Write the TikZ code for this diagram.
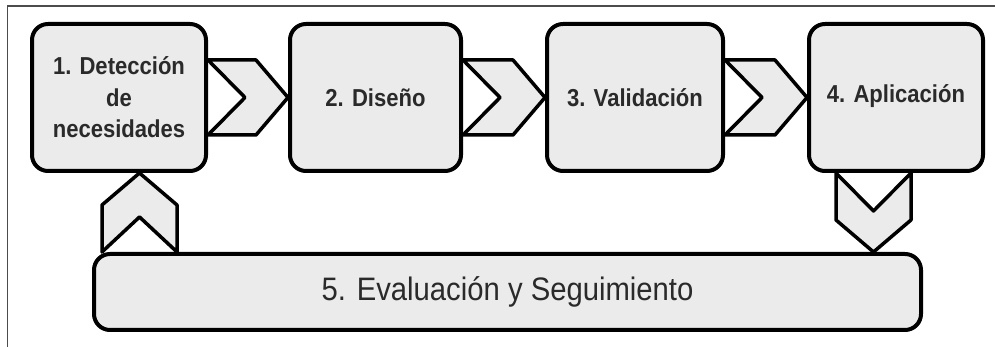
\documentclass[tikz,border=0pt]{standalone}
\usepackage{fontspec}
\setmainfont{Liberation Sans}
\newfontfamily\narrowsans[FakeStretch=0.9]{Liberation Sans}
\usetikzlibrary{calc}
\definecolor{boxgray}{HTML}{EBEBEB}
\definecolor{textgray}{HTML}{2A2A2A}
\def\hchevron(#1)(#2){\draw[chevron] ($(#1.east)+(0,37.5)$) -- ($(#2.west)+(-32,37.5)$) -- (#2.west) -- ($(#2.west)+(-32,-37.5)$) -- ($(#1.east)+(0,-37.5)$) -- ($(#1.east)+(37,0)$) -- cycle;}

\begin{document}
\begin{tikzpicture}[x=1pt,y=1pt,
		stage/.style={draw=black, fill=boxgray, line width=4pt, rounded corners=16pt, minimum width=174pt, minimum height=147pt, align=center, text=textgray, font=\narrowsans\fontsize{24.5}{31.5}\selectfont\bfseries},
		chevron/.style={draw=black, fill=boxgray, line width=3.5pt, line join=round}]
				\useasboundingbox (0,0) rectangle (995,347);
				\draw[gray!60!black, line width=1.5pt] (7.5,0) |- (995,341);
				
				\node[stage] (d1) at (119,249.5) {1. Detección\\de\\necesidades};
				\node[stage, minimum width=171pt] (d2) at (375.5,249.5) {2. Diseño};
				\node[stage, minimum width=176pt] (d3) at (635,249.5) {3. Validación};
				\node[stage] (d4) at (896,249.5) {\raisebox{8pt}{4. Aplicación}};
				\node[stage, minimum width=827pt, minimum height=76pt, font=\narrowsans\fontsize{32.5}{36}\selectfont] (e5) at (507.5,55) {5. Evaluación y Seguimiento};
				
				\hchevron(d1)(d2)
				\hchevron(d2)(d3)
				\hchevron(d3)(d4)
				
				\coordinate (upbase) at ($(e5.north -| d1.south)+(20.5,0)$);
				\coordinate (uptip) at ($(d1.south)+(20.5,0)$);
				\draw[chevron] ($(upbase)+(-37.5,0)$) -- ($(uptip)+(-37.5,-32)$) -- (uptip) -- ($(uptip)+(37.5,-32)$) -- ($(upbase)+(37.5,0)$) -- ($(upbase)+(0,35)$) -- cycle;
				
				\coordinate (downtop) at ($(d4.south)+(-22.5,0)$);
				\coordinate (downtip) at (e5.north -| downtop);
				\draw[chevron] ($(downtop)+(-37.5,0)$) -- ($(downtop)+(0,-38)$) -- ($(downtop)+(37.5,0)$) -- ($(downtip)+(37.5,32)$) -- (downtip) -- ($(downtip)+(-37.5,32)$) -- cycle;
			\end{tikzpicture}
\end{document}
